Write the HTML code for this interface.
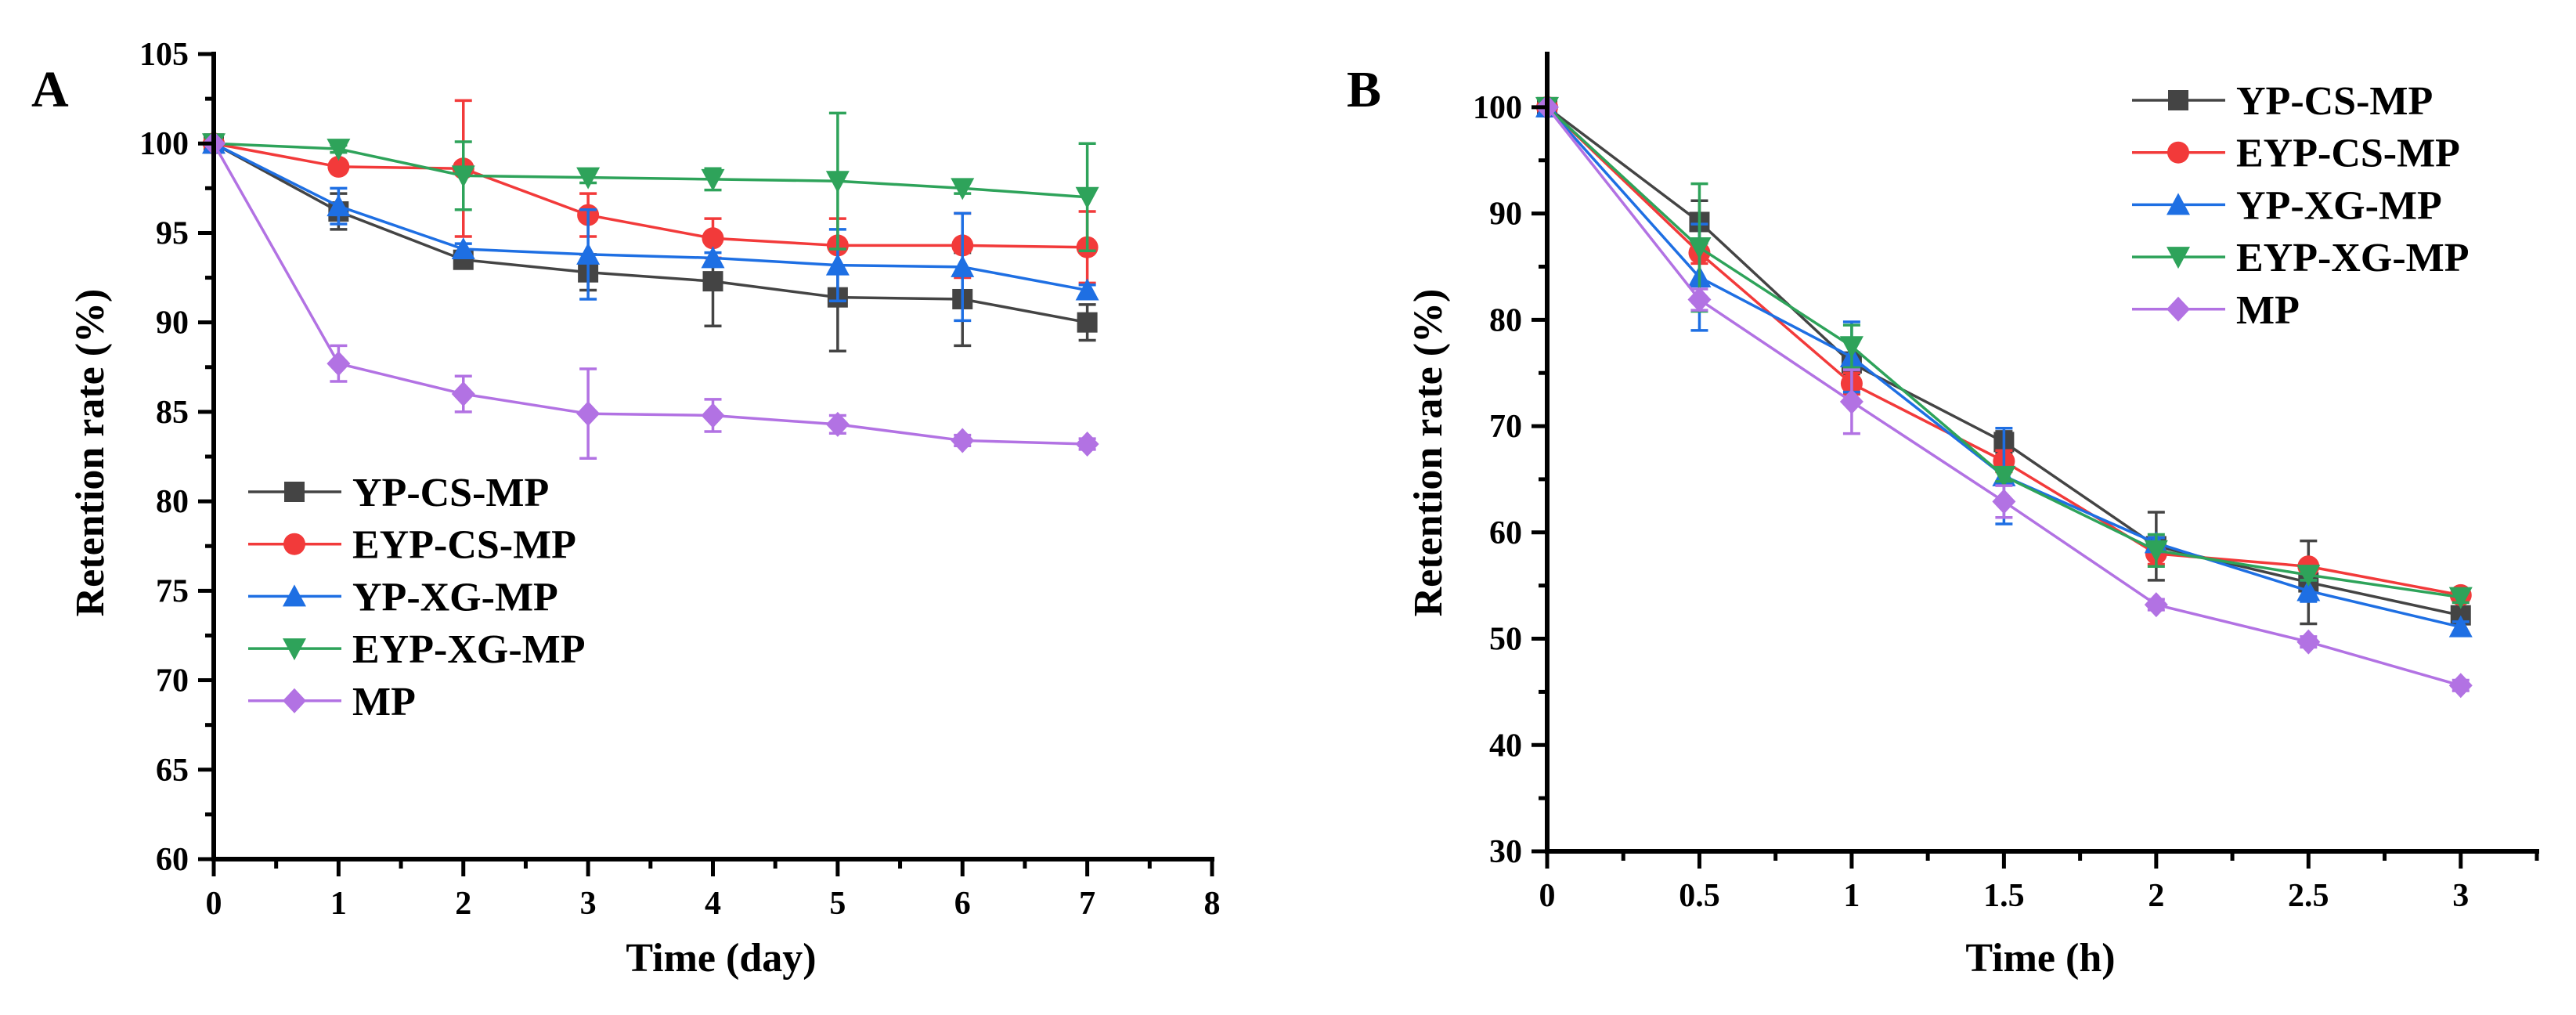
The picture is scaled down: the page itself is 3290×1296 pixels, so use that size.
<!DOCTYPE html>
<html><head><meta charset="utf-8"><style>
html,body{margin:0;padding:0;background:#fff;}
svg{display:block;font-family:"Liberation Serif","DejaVu Serif",serif;font-weight:bold;}
</style></head><body>
<svg id="fig" width="3290" height="1296" viewBox="0 0 3290 1296" xmlns="http://www.w3.org/2000/svg">
<rect width="3290" height="1296" fill="#fff"/>
</svg>
<script>
const seriesNames = ["YP-CS-MP","EYP-CS-MP","YP-XG-MP","EYP-XG-MP","MP"];
const seriesColors = ["#444444","#f23a3a","#1e6fe3","#2ea35a","#b272e3"];
const markerShapes = ["square","circle","triUp","triDown","diamond"];

const daysA = [0,1,2,3,4,5,6,7];
const valsA_YPCS  = [100,96.2,93.5,92.8,92.3,91.4,91.3,90.0];
const errA_YPCS   = [0,1.0,0.3,1.0,2.5,3.0,2.6,1.0];
const valsA_EYPCS = [100,98.7,98.6,96.0,94.7,94.3,94.3,94.2];
const errA_EYPCS  = [0,0.3,3.8,1.2,1.1,1.5,1.8,2.0];
const valsA_YPXG  = [100,96.5,94.1,93.8,93.6,93.2,93.1,91.8];
const errA_YPXG   = [0,1.0,0.3,2.5,0.3,2.0,3.0,0.3];
const valsA_EYPXG = [100,99.7,98.2,98.1,98.0,97.9,97.5,97.0];
const errA_EYPXG  = [0,0.2,1.9,0.3,0.6,3.8,0.3,3.0];
const valsA_MP    = [100,87.7,86.0,84.9,84.8,84.3,83.4,83.2];
const errA_MP     = [0,1.0,1.0,2.5,0.9,0.5,0.3,0.3];
const xTicksA = [0,1,2,3,4,5,6,7,8];
const yTicksA = [60,65,70,75,80,85,90,95,100,105];

const hoursB = [0,0.5,1,1.5,2,2.5,3];
const valsB_YPCS  = [100,89.2,75.9,68.5,58.7,55.3,52.2];
const errB_YPCS   = [0,2.0,1.0,1.0,3.2,3.9,0.5];
const valsB_EYPCS = [100,86.3,74.0,66.7,58.0,56.8,54.1];
const errB_EYPCS  = [0,1.0,1.0,1.0,1.0,0.5,0.5];
const valsB_YPXG  = [100,84.0,76.5,65.3,59.0,54.5,51.1];
const errB_YPXG   = [0,5.0,3.3,4.5,0.5,1.0,0.5];
const valsB_EYPXG = [100,86.8,77.5,65.3,58.3,56.0,53.9];
const errB_EYPXG  = [0,6.0,2.0,0.5,1.5,0.5,0.5];
const valsB_MP    = [100,81.9,72.3,62.9,53.2,49.7,45.6];
const errB_MP     = [0,1.0,3.0,1.5,0.5,0.5,0.5];
const xTicksB = [0,0.5,1,1.5,2,2.5,3];
const xTickLabelsB = ["0","0.5","1","1.5","2","2.5","3"];
const yTicksB = [30,40,50,60,70,80,90,100];

const NS="http://www.w3.org/2000/svg";
const svg=document.getElementById('fig');
function mk(tag,attrs,parent){const e=document.createElementNS(NS,tag);for(const k in attrs)e.setAttribute(k,attrs[k]);(parent||svg).appendChild(e);return e;}
function txt(s,attrs,parent){const e=mk('text',attrs,parent);e.textContent=s;return e;}

function marker(shape,cx,cy,color,g){
  const r=13;let e;
  if(shape==="square") e=mk('rect',{x:cx-r,y:cy-r,width:2*r,height:2*r,fill:color},g);
  else if(shape==="circle") e=mk('circle',{cx:cx,cy:cy,r:r+1,fill:color},g);
  else if(shape==="triUp") e=mk('polygon',{points:`${cx},${cy-r-2} ${cx-r-2},${cy+r} ${cx+r+2},${cy+r}`,fill:color},g);
  else if(shape==="triDown") e=mk('polygon',{points:`${cx},${cy+r+2} ${cx-r-2},${cy-r} ${cx+r+2},${cy-r}`,fill:color},g);
  else e=mk('polygon',{points:`${cx},${cy-r-3} ${cx+r+2},${cy} ${cx},${cy+r+3} ${cx-r-2},${cy}`,fill:color},g);
  return e;
}

function panel(cfg){
  const {id,x0,x1,xmin,xmax,y0,y1,ymin,ymax,xs,vals,errs,xTicks,xLabels,xMinor,yTicks,yMinor,label,labelX,xTitle,xTitleX,yTitleX,legendX,legendY,textX}=cfg;
  const g=mk('g',{});
  
  
  const sx=v=>x0+(v-xmin)/(xmax-xmin)*(x1-x0);
  const sy=v=>y0-(v-ymin)/(ymax-ymin)*(y0-y1);
  // series
  for(let s=0;s<vals.length;s++){
    const sg=mk('g',{},g);
    
    
    const col=seriesColors[s];
    const pts=xs.map((x,i)=>sx(x)+','+sy(vals[s][i])).join(' ');
    const pl=mk('polyline',{points:pts,fill:'none',stroke:col,'stroke-width':3.5},sg);
    
    
    xs.forEach((x,i)=>{
      const cx=sx(x),cy=sy(vals[s][i]),e=errs[s][i];
      if(e>0){
        const t=sy(vals[s][i]+e),b=sy(vals[s][i]-e);
        const eb=mk('path',{d:`M${cx},${t}V${b}M${cx-11},${t}H${cx+11}M${cx-11},${b}H${cx+11}`,stroke:col,'stroke-width':3.5,fill:'none'},sg);
        
        
      }
      const m=marker(markerShapes[s],cx,cy,col,sg);
      
      
    });
  }
  // axes
  const ax=mk('path',{d:`M${x0},${y1}V${y0}H${x1}`,stroke:'#000','stroke-width':6,fill:'none','stroke-linecap':'square'},g);
  
  
  yTicks.forEach(v=>{
    mk('line',{x1:x0-20,x2:x0,y1:sy(v),y2:sy(v),stroke:'#000','stroke-width':5},g);
    const t=txt(String(v),{x:x0-32,y:sy(v)+14,'font-size':42,'text-anchor':'end'},g);
    
    
  });
  yMinor.forEach(v=>{mk('line',{x1:x0-11,x2:x0,y1:sy(v),y2:sy(v),stroke:'#000','stroke-width':5},g);});
  xTicks.forEach((v,i)=>{
    mk('line',{x1:sx(v),x2:sx(v),y1:y0,y2:y0+22,stroke:'#000','stroke-width':5},g);
    const t=txt(xLabels[i],{x:sx(v),y:y0+70,'font-size':42,'text-anchor':'middle'},g);
    
    
  });
  xMinor.forEach(v=>{mk('line',{x1:sx(v),x2:sx(v),y1:y0,y2:y0+12,stroke:'#000','stroke-width':5},g);});
  const xt=txt(xTitle,{x:xTitleX,y:1240,'font-size':52,'text-anchor':'middle'},g);
  
  
  const yt=txt('Retention rate (%)',{x:0,y:0,'font-size':52,'text-anchor':'middle',transform:`translate(${yTitleX},578) rotate(-90)`},g);
  
  
  const pl=txt(label,{x:labelX,y:136,'font-size':66},g);
  
  
  // legend
  const lg=mk('g',{},g);
  
  
  seriesNames.forEach((n,s)=>{
    const y=legendY+s*66.7;
    const eg=mk('g',{},lg);
    
    
    mk('line',{x1:legendX,x2:legendX+119,y1:y,y2:y,stroke:seriesColors[s],'stroke-width':3.5},eg);
    marker(markerShapes[s],legendX+59,y,seriesColors[s],eg);
    txt(n,{x:textX,y:y+18,'font-size':52},eg);
  });
}

panel({id:'panel-a',x0:273,x1:1548,xmin:0,xmax:8,y0:1097,y1:69,ymin:60,ymax:105,
  xs:daysA,vals:[valsA_YPCS,valsA_EYPCS,valsA_YPXG,valsA_EYPXG,valsA_MP],
  errs:[errA_YPCS,errA_EYPCS,errA_YPXG,errA_EYPXG,errA_MP],
  xTicks:xTicksA,xLabels:xTicksA.map(String),xMinor:[0.5,1.5,2.5,3.5,4.5,5.5,6.5,7.5],
  yTicks:yTicksA,yMinor:[62.5,67.5,72.5,77.5,82.5,87.5,92.5,97.5,102.5],
  label:'A',labelX:40,xTitle:'Time (day)',xTitleX:921,yTitleX:132,legendX:317,legendY:628,textX:450});

panel({id:'panel-b',x0:1976,x1:3240,xmin:0,xmax:3.25,y0:1087,y1:69,ymin:30,ymax:105,
  xs:hoursB,vals:[valsB_YPCS,valsB_EYPCS,valsB_YPXG,valsB_EYPXG,valsB_MP],
  errs:[errB_YPCS,errB_EYPCS,errB_YPXG,errB_EYPXG,errB_MP],
  xTicks:xTicksB,xLabels:xTickLabelsB,xMinor:[0.25,0.75,1.25,1.75,2.25,2.75,3.25],
  yTicks:yTicksB,yMinor:[35,45,55,65,75,85,95],
  label:'B',labelX:1720,xTitle:'Time (h)',xTitleX:2606,yTitleX:1841,legendX:2723,legendY:128,textX:2856});
</script>
</body></html>
